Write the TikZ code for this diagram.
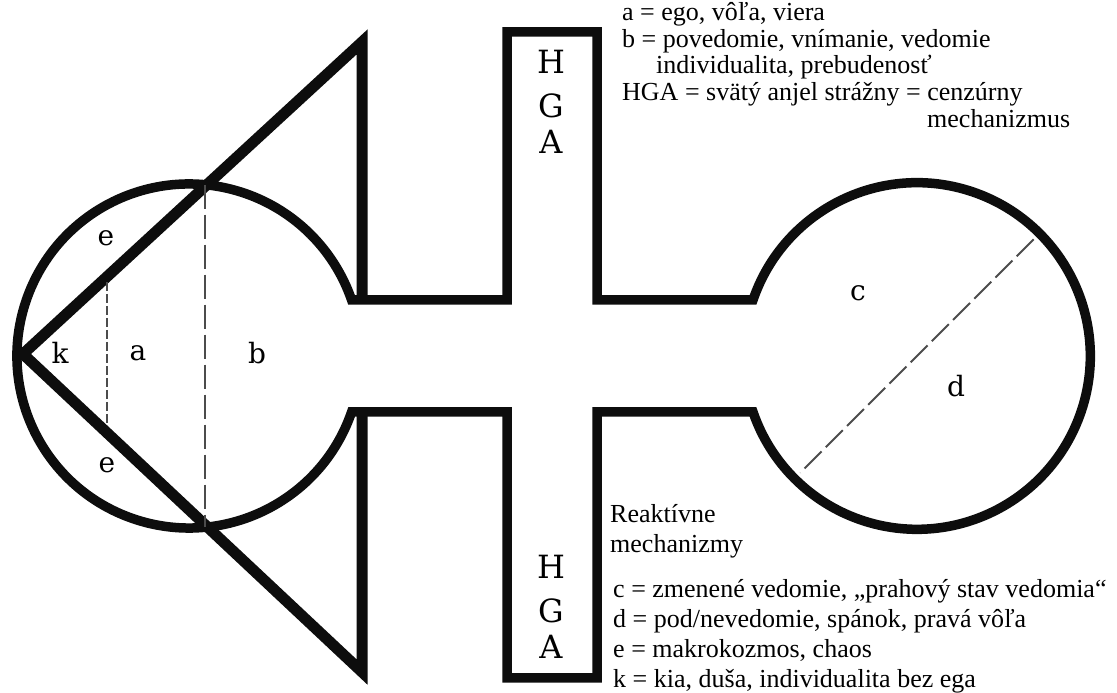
\documentclass[tikz,border=0pt]{standalone}
\usepackage{fontspec}
\setmainfont{Liberation Serif}
\newfontfamily\lblfont{DejaVu Serif}
\usetikzlibrary{calc}

\tikzset{line_style/.style={line width=9.5pt, line join=miter, miter limit=3, black!95}}
\tikzset{tri_style/.style={line width=11pt, line join=miter, black!95}}
\tikzset{dash_style/.style={line width=2pt, black!70, dash pattern=on 24pt off 6pt}}
\tikzset{lbl_style/.style={font=\lblfont\fontsize{28}{28}\selectfont, inner sep=0pt}}
\tikzset{hga_style/.style={font=\lblfont\fontsize{32}{32}\selectfont, inner sep=0pt}}
\tikzset{txt_style/.style={font=\fontsize{26}{26}\selectfont, inner sep=0pt, anchor=base west}}

\begin{document}
\begin{tikzpicture}[x=1pt, y=1pt]
    \useasboundingbox (0,0) rectangle (1117,693);

    \coordinate (k) at (23,339);
    \coordinate (tip_t) at (362,651);
    \coordinate (tip_b) at (362,21);
    \coordinate (lc) at (189,337);
    \coordinate (rc) at (917,337);

    % outline
    \draw[line_style] (507,393) -- (507,661) -- (597,661) -- (597,393) -- (753,393)
        arc[start angle=161.15, end angle=-161.15, radius=173.3]
        -- (597,281) -- (597,15) -- (507,15) -- (507,281) -- (351.6,281)
        arc[start angle=-19, end angle=-341, radius=172] -- cycle;

    % triangles
    \draw[tri_style] (362,393) -- (tip_t) -- (k) -- (tip_b) -- (362,281);

    % dashed lines
    \draw[dash_style] (205,508.3) -- (205,165.8);
    \draw[dash_style, dash pattern=on 9pt off 3pt] (107,411) -- (107,270);
    \draw[dash_style] ($(rc)+(45:165)$) -- ($(rc)+(225:165)$);

    \node[lbl_style] (e1) at (106,455) {e};
    \node[lbl_style] (e2) at (107,228) {e};
    \node[lbl_style] (kk) at (60,340) {k};
    \node[lbl_style] (a) at (138,340) {a};
    \node[lbl_style] (b) at (257,340) {b};
    \node[lbl_style] (c) at (858,400) {c};
    \node[lbl_style] (d) at (956,307) {d};

    \node[hga_style] (h1) at (551,631) {H};
    \node[hga_style] (g1) at (551,587) {G};
    \node[hga_style] (a1) at (551,551) {A};
    \node[hga_style] (h2) at (551,126) {H};
    \node[hga_style] (g2) at (551,82) {G};
    \node[hga_style] (a2) at (551,46) {A};

    \node[txt_style] (ta) at (622,672) {a = ego, vôľa, viera};
    \node[txt_style] (tb) at (622,645) {b = povedomie, vnímanie, vedomie};
    \node[txt_style] (tb2) at (656,619) {individualita, prebudenosť};
    \node[txt_style] (thga) at (622,592) {HGA = svätý anjel strážny = cenzúrny};
    \node[txt_style] (thga2) at (927,565) {mechanizmus};

    \node[txt_style] (r1) at (610,170) {Reaktívne};
    \node[txt_style] (r2) at (610,140) {mechanizmy};
    \node[txt_style] (tc) at (613,95) {c = zmenené vedomie, „prahový stav vedomia“};
    \node[txt_style] (td) at (613,65) {d = pod/nevedomie, spánok, pravá vôľa};
    \node[txt_style] (te) at (613,35) {e = makrokozmos, chaos};
    \node[txt_style] (tk) at (613,5) {k = kia, duša, individualita bez ega};
\end{tikzpicture}
\end{document}
